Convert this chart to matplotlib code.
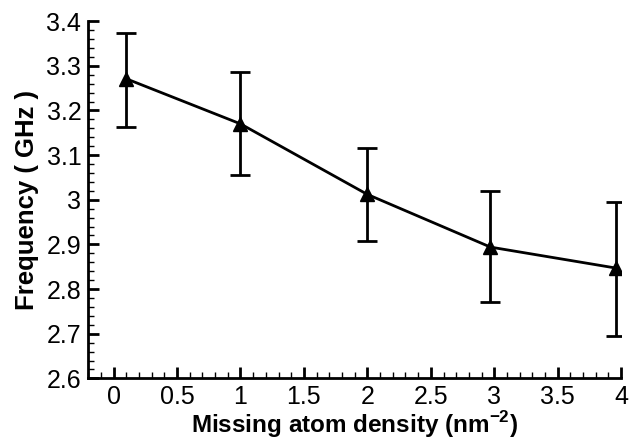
import matplotlib
matplotlib.use("Agg")
import matplotlib.pyplot as plt
from matplotlib.ticker import MultipleLocator

# data
density = [0.1, 1.0, 2.0, 2.97, 3.96]
freq = [3.271, 3.170, 3.012, 2.894, 2.847]
err_low = [3.162, 3.055, 2.908, 2.772, 2.696]
err_high = [3.373, 3.286, 3.115, 3.019, 2.994]

yerr = [[f - lo for f, lo in zip(freq, err_low)],
        [hi - f for f, hi in zip(freq, err_high)]]

plt.rcParams['font.family'] = ['Liberation Sans', 'DejaVu Sans']
plt.rcParams['mathtext.fontset'] = 'custom'
plt.rcParams['mathtext.bf'] = 'Liberation Sans:bold'

fig = plt.figure(figsize=(6.3, 4.41), dpi=100)
ax = fig.add_axes([0.14, 0.142, 0.846, 0.81])

ax.errorbar(density, freq, yerr=yerr, color='black', lw=2, marker='^',
            markersize=10, capsize=7, capthick=2, elinewidth=2)

ax.set_xlim(-0.2, 4.0)
ax.set_ylim(2.6, 3.4)
ax.xaxis.set_minor_locator(MultipleLocator(0.1))
ax.yaxis.set_minor_locator(MultipleLocator(0.02))
ax.set_xticks([0, 0.5, 1, 1.5, 2, 2.5, 3, 3.5, 4])
ax.set_xticklabels(['0', '0.5', '1', '1.5', '2', '2.5', '3', '3.5', '4'])
ax.set_yticks([2.6, 2.7, 2.8, 2.9, 3.0, 3.1, 3.2, 3.3, 3.4])
ax.set_yticklabels(['2.6', '2.7', '2.8', '2.9', '3', '3.1', '3.2', '3.3', '3.4'])

for side in ['top', 'right']:
    ax.spines[side].set_visible(False)
for side in ['left', 'bottom']:
    ax.spines[side].set_linewidth(2)

ax.tick_params(which='major', direction='in', length=8, width=2, labelsize=18, pad=5)
ax.tick_params(which='minor', direction='in', length=4, width=1)

ax.set_xlabel('Missing atom density (nm$^{\\mathbf{-2}}$)', fontsize=17.5,
              fontweight='bold', labelpad=0)
ax.set_ylabel('Frequency ( GHz )', fontsize=18.5, fontweight='bold', labelpad=5)

fig.savefig('out.png', dpi=100)
